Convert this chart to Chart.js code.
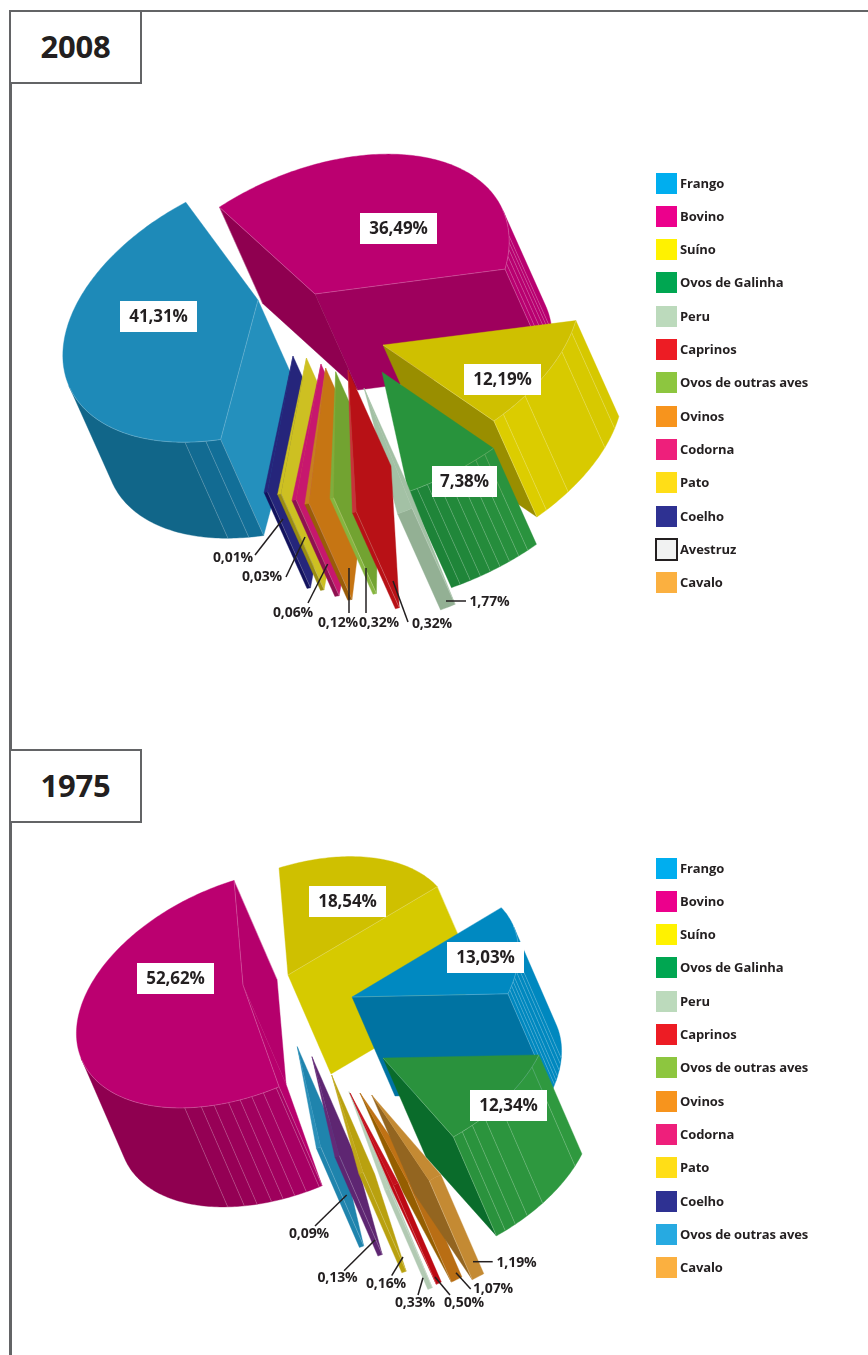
<!DOCTYPE html>
<html lang="pt"><head><meta charset="utf-8">
<script src="https://cdn.jsdelivr.net/npm/chart.js@4"></script>
<style>
html,body{margin:0;padding:0;background:#fff;width:868px;height:1355px;overflow:hidden}
body{position:relative;font-family:"Open Sans",sans-serif;color:#231f20}
canvas{position:absolute;left:0}
.rule{position:absolute;background:#636466}
.yr{position:absolute;left:9px;width:129px;height:70px;border:2.5px solid #636466;background:#fff;font:bold 31px "Open Sans",sans-serif;text-align:center;line-height:68px;letter-spacing:-.2px}
.lg{position:absolute;left:656px;height:21px;font:bold 13px/21px "Open Sans",sans-serif;letter-spacing:-.1px;white-space:nowrap;padding-left:24px}
.lg i{position:absolute;left:0;top:0;width:21px;height:21px;box-sizing:border-box}
</style></head><body>
<div class="rule" style="left:9px;top:9.5px;width:859px;height:2.5px"></div>
<div class="rule" style="left:9px;top:10px;width:2.5px;height:1345px"></div>
<canvas id="c2008" width="868" height="740" style="top:0"></canvas>
<canvas id="c1975" width="868" height="615" style="top:740px"></canvas>
<div class="yr" style="top:10px">2008</div>
<div class="yr" style="top:749px">1975</div>
<script>
// ---------- data ----------
const categories2008 = ["Frango","Bovino","Suíno","Ovos de Galinha","Peru","Caprinos","Ovos de outras aves","Ovinos","Codorna","Pato","Coelho"];
const values2008     = [41.31,36.49,12.19,7.38,1.77,0.32,0.32,0.12,0.06,0.03,0.01];
const categories1975 = ["Bovino","Suíno","Frango","Ovos de Galinha","Cavalo","Ovinos","Caprinos","Peru","Pato","Coelho","Ovos de outras aves"];
const values1975     = [52.62,18.54,13.03,12.34,1.19,1.07,0.50,0.33,0.16,0.13,0.09];
const legend2008 = ["Frango","Bovino","Suíno","Ovos de Galinha","Peru","Caprinos","Ovos de outras aves","Ovinos","Codorna","Pato","Coelho","Avestruz","Cavalo"];
const legend1975 = ["Frango","Bovino","Suíno","Ovos de Galinha","Peru","Caprinos","Ovos de outras aves","Ovinos","Codorna","Pato","Coelho","Ovos de outras aves","Cavalo"];
const swatches2008 = ["#00aeef","#ec008c","#fff200","#00a651","#bcdabc","#ed1c24","#8dc63f","#f7941d","#ee1f7b","#ffde17","#2e3192","#f1f2f2","#fbb040"];
const swatches1975 = ["#00aeef","#ec008c","#fff200","#00a651","#bcdabc","#ed1c24","#8dc63f","#f7941d","#ee1f7b","#ffde17","#2e3192","#27aae1","#fbb040"];

// ---------- look of the exploded, tilted slices ----------
const tilt = {ux:1, uy:-0.1263, vx:-0.2105, vy:0.7};
const style2008 = [
 {dx:-67,dy:0,spin:9,sweep:147.7,ky:1.03,cx:-1,cy:3,top:"#1e8ab8",wallS:"#2490bd",wallE:"#2490bd",outer:["#126f98","#116689"],ribs:[4.5,11]},
 {dx:-10,dy:-6,ky:1.035,top:"#bb0070",wallS:"#8f0050",wallE:"#9e005d",outer:["#b80070","#b80070"],ribs:[117,120,123,126,129]},
 {dx:58,dy:45,k:1.015,top:"#cfc000",wallS:"#998e00",wallE:"#998e00",outer:["#d6c800","#dccd00"],ribs:[5,13,32,40.5]},
 {dx:57,dy:72,k:1.02,top:"#28933c",wallS:"#1a7f35",wallE:"#1a7f35",outer:["#2a933e","#1d8338"],ribs:[3,6,9,12,15,18,21,24]},
 {dx:39,dy:88,spin:-5.45,sweep:4,k:1.09,top:"#a3c1a5",wallS:"#a3c1a5",wallE:"#93b094",outer:["#93b094","#93b094"]},
 {dx:23,dy:70,spin:-0.82,sweep:1,k:1.15,top:"#c8323a",wallS:"#b81116",wallE:"#b81116",outer:["#b81116","#b81116"]},
 {dx:10.7,dy:71.7,spin:0.83,sweep:1,k:1,top:"#7ead3d",wallS:"#72a331",wallE:"#72a331",outer:["#86b53f","#86b53f"]},
 {dx:0.7,dy:68,spin:3.7,sweep:1.2,k:1.05,top:"#c67f20",wallS:"#c67513",wallE:"#c67513",outer:["#9a5c08","#9a5c08"]},
 {dx:-4,dy:64,spin:5.65,sweep:1.2,k:1.04,top:"#c7176e",wallS:"#c7176e",wallE:"#c7176e",outer:["#8f1050","#8f1050"]},
 {dx:-18.5,dy:58,spin:5.6,sweep:1,k:1.04,top:"#cdc022",wallS:"#cdc022",wallE:"#cdc022",outer:["#9a8d10","#9a8d10"]},
 {dx:-32,dy:56,spin:5.5,sweep:1,k:1.04,top:"#25257b",wallS:"#25257b",wallE:"#25257b",outer:["#12125e","#12125e"]}
];
const order2008 = [1,0,2,3,4,10,9,8,7,6,5];
const big2008 = {0:[158.5,316.5,77],1:[398.5,228.5,77],2:[502.5,379.5,77],3:[464.5,481.5,65]};
const small2008 = {
 4:[489.5,601.5,446,601,466,601], 5:[432,624,408,622,393,581], 6:[379,622.5,366,568,366,613],
 7:[338,622.5,349,568,349,613], 8:[293,613,308,603,327.7,564], 9:[262,577,286,577,305,537], 10:[233,558,255,555,283,519]};

const style1975 = [
 {dx:-82,dy:-25,ky:1.03,cy:3.5,top:"#bb0070",wallS:"#b8006d",wallE:"#b5006c",outer:["#a80064","#8f0050"],ribs:[1,5.5,9.5,13.5,17.5,22.5,27,33]},
 {dx:-37,dy:-35,ky:1.03,cy:1,top:"#cfc000",wallS:"#d6ca00",wallE:"#d6ca00",outer:["#d6ca00","#d6ca00"]},
 {dx:27,dy:-13,ky:1.03,top:"#0089c1",wallS:"#0073a2",wallE:"#0073a2",outer:["#0088bf","#0088bf"],ribs:[30,33,36,39,41,43,45]},
 {dx:58,dy:48,top:"#2a923d",wallS:"#0a6c2b",wallE:"#0a6c2b",outer:["#2f993f","#2a923d"],ribs:[6,25,32,37,41]},
 {dx:46.7,dy:85,spin:0.5,top:"#c48a33",wallS:"#936520",wallE:"#936520",outer:["#c48a33","#c48a33"]},
 {dx:35,dy:83,top:"#c07214",wallS:"#955e00",wallE:"#955e00",outer:["#b96e14","#b96e14"]},
 {dx:25,dy:83,sweep:1.8,top:"#c5101c",wallS:"#bd0a14",wallE:"#bd0a14",outer:["#bd0a14","#bd0a14"]},
 {dx:24,dy:81.7,spin:1.5,sweep:1.5,k:1.03,top:"#b7cfb8",wallS:"#b2cab3",wallE:"#b2cab3",outer:["#b2cab3","#b2cab3"]},
 {dx:6.7,dy:65,spin:3,sweep:1.5,top:"#c0a718",wallS:"#b9a10f",wallE:"#b9a10f",outer:["#b9a10f","#b9a10f"]},
 {dx:-13,dy:46.7,spin:3.9,sweep:1.5,top:"#642a78",wallS:"#5e2672",wallE:"#5e2672",outer:["#5e2672","#5e2672"]},
 {dx:-27.7,dy:36.7,spin:4.75,sweep:1.5,top:"#2a8fb8",wallS:"#1f84ad",wallE:"#1f84ad",outer:["#1f84ad","#1f84ad"]}
];
const order1975 = [0,1,2,3,10,9,8,7,6,5,4];
const big1975 = {0:[175.5,978.5,77],1:[347.5,901.5,77],2:[485.5,957.5,77],3:[508.5,1105.5,77]};
const small1975 = {
 4:[516.5,1263,473,1261.7,492.7,1261.7], 5:[493,1289,470.7,1289,456,1272.7], 6:[464,1303,450,1295,435,1277],
 7:[415,1303,418,1295,423,1277.7], 8:[386,1284,391.7,1275.7,403,1257], 9:[337.5,1278,344,1270.7,375,1240], 10:[309,1234,315,1226,346.7,1195]};

// ---------- helpers ----------
const rad = d => d*Math.PI/180;
const hex = c => [1,3,5].map(i=>parseInt(c.substr(i,2),16));
const mix = (a,b,t)=>{const A=hex(a),B=hex(b);return "rgb("+A.map((v,i)=>Math.round(v+(B[i]-v)*t)).join(",")+")";};
const pct = v => v.toFixed(2).replace(".",",")+"%";

function poly(ctx,pts,fill){
  ctx.beginPath();pts.forEach((p,i)=>i?ctx.lineTo(p[0],p[1]):ctx.moveTo(p[0],p[1]));ctx.closePath();
  ctx.fillStyle=fill;ctx.fill();ctx.strokeStyle=fill;ctx.lineWidth=.4;ctx.stroke();
}
function seam(ctx,a,b,al){
  ctx.beginPath();ctx.moveTo(a[0],a[1]);ctx.lineTo(b[0],b[1]);
  ctx.strokeStyle="rgba(255,255,255,"+(al||.28)+")";ctx.lineWidth=.7;ctx.stroke();
}
function drawWedge(ctx,arc,s,E){
  const r=arc.outerRadius*(s.k||1), ky=s.ky||1, A=[arc.x+s.dx,arc.y+s.dy];
  const t0=arc.startAngle+rad(s.spin||0);
  const sweep=s.sweep?rad(s.sweep):arc.endAngle-arc.startAngle, t1=t0+sweep;
  const P=t=>{const c=Math.cos(t),n=Math.sin(t);
    return [A[0]+(s.cx||0)+r*(c*tilt.ux+n*tilt.vx),A[1]+(s.cy||0)+ky*r*(c*tilt.uy+n*tilt.vy)];};
  const down=p=>[p[0]+E[0],p[1]+E[1]];
  const outerShows=t=>{const c=Math.cos(t),n=Math.sin(t);
    const tx=-n*tilt.ux+c*tilt.vx, ty=-n*tilt.uy+c*tilt.vy; return ty*E[0]-tx*E[1]>0;};
  // walls
  const pS=P(t0),pE=P(t1),rS=[pS[0]-A[0],pS[1]-A[1]],rE=[pE[0]-A[0],pE[1]-A[1]];
  const walls=[];
  if(rE[0]*E[1]-rE[1]*E[0]>0) walls.push([pE,s.wallE]);
  if(rS[1]*E[0]-rS[0]*E[1]>0) walls.push([pS,s.wallS]);
  walls.forEach(w=>{poly(ctx,[A,w[0],down(w[0]),down(A)],w[1]);});
  // curved outer side, one facet between ribs
  const cuts=[0].concat((s.ribs||[]).map(rad),[sweep]);
  for(let f=0;f<cuts.length-1;f++){
    const a=t0+cuts[f],b=t0+cuts[f+1],n=Math.max(1,Math.ceil((b-a)/rad(1))),up=[],lo=[];
    for(let j=0;j<n;j++){
      const u=a+(b-a)*j/n,v=a+(b-a)*(j+1)/n;
      if(outerShows((u+v)/2)){ if(!up.length){up.push(P(u));lo.push(down(P(u)));} up.push(P(v));lo.push(down(P(v))); }
    }
    if(up.length) poly(ctx,up.concat(lo.reverse()),mix(s.outer[0],s.outer[1],cuts[f]/(cuts[cuts.length-2]||1)));
  }
  (s.ribs||[]).forEach(d=>{const t=t0+rad(d); if(outerShows(t)) seam(ctx,P(t),down(P(t)));});
  walls.forEach(w=>seam(ctx,w[0],down(w[0]),.3));
  // top face
  const pts=[A];for(let j=0;j<=Math.ceil(sweep/rad(1));j++)pts.push(P(t0+sweep*j/Math.ceil(sweep/rad(1))));
  poly(ctx,pts,s.top);
  if(sweep>rad(10)){
    walls.forEach(w=>seam(ctx,A,w[0],.3));
    ctx.beginPath();pts.slice(1).forEach((p,i)=>{if(outerShows(t0+sweep*i/(pts.length-2))) ctx.lineTo(p[0],p[1]); else ctx.moveTo(p[0],p[1]);});
    ctx.strokeStyle="rgba(255,255,255,.35)";ctx.lineWidth=.6;ctx.stroke();
  }
}
function wedgePlugin(styles,order,E,big,small,values,top){
  return {
    id:"wedges",
    beforeDatasetDraw(){return false;},
    afterDatasetsDraw(chart){
      const ctx=chart.ctx,arcs=chart.getDatasetMeta(0).data;
      ctx.save();
      order.forEach(i=>drawWedge(ctx,arcs[i],styles[i],E));
      ctx.textAlign="center";ctx.textBaseline="middle";ctx.fillStyle="#231f20";
      Object.keys(small).forEach(i=>{
        const m=small[i];
        ctx.beginPath();ctx.moveTo(m[2],m[3]-top);ctx.lineTo(m[4],m[5]-top);
        ctx.strokeStyle="#231f20";ctx.lineWidth=1.5;ctx.stroke();
        ctx.font='bold 14px "Open Sans",sans-serif';ctx.letterSpacing="-0.1px";
        ctx.fillText(pct(values[i]),m[0],m[1]+.5-top);
      });
      Object.keys(big).forEach(i=>{
        const m=big[i];
        ctx.fillStyle="#fff";ctx.fillRect(m[0]-m[2]/2,m[1]-15.5-top,m[2],31);
        ctx.fillStyle="#231f20";ctx.font='bold 17px "Open Sans",sans-serif';ctx.letterSpacing="-0.1px";
        ctx.fillText(pct(values[i]),m[0],m[1]+.5-top);
      });
      ctx.restore();
    }
  };
}
function pie(id,labels,data,colors,rotation,radius,pad,plugin){
  return new Chart(document.getElementById(id),{
    type:"pie",
    data:{labels,datasets:[{data,backgroundColor:colors,borderWidth:0,radius}]},
    options:{responsive:false,animation:false,rotation,layout:{padding:pad},
      plugins:{legend:{display:false},tooltip:{enabled:false}}},
    plugins:[plugin]
  });
}
function swatchFor(list,swatches,name){return swatches[list.indexOf(name)];}
function buildLegend(list,swatches,first){
  list.forEach((name,i)=>{
    const d=document.createElement("div");d.className="lg";d.style.top=(first+i*33.33-10.5)+"px";
    const b=document.createElement("i");b.style.background=swatches[i];
    if(name==="Avestruz"){b.style.border="2.5px solid #231f20";b.style.left="-1px";b.style.width="23px";b.style.height="23px";b.style.top="-1px";}
    d.appendChild(b);d.appendChild(document.createTextNode(name));document.body.appendChild(d);
  });
}
pie("c2008",categories2008,values2008,categories2008.map(n=>swatchFor(legend2008,swatches2008,n)),169.9,190,{right:218,bottom:140},
    wedgePlugin(style2008,order2008,[43,96],big2008,small2008,values2008,0));
pie("c1975",categories1975,values1975,categories1975.map(n=>swatchFor(legend1975,swatches1975,n)),155.6,163,{right:218,bottom:75},
    wedgePlugin(style1975,order1975,[43,99],big1975,small1975,values1975,740));
buildLegend(legend2008,swatches2008,183);
buildLegend(legend1975,swatches1975,868);
</script>
</body></html>
